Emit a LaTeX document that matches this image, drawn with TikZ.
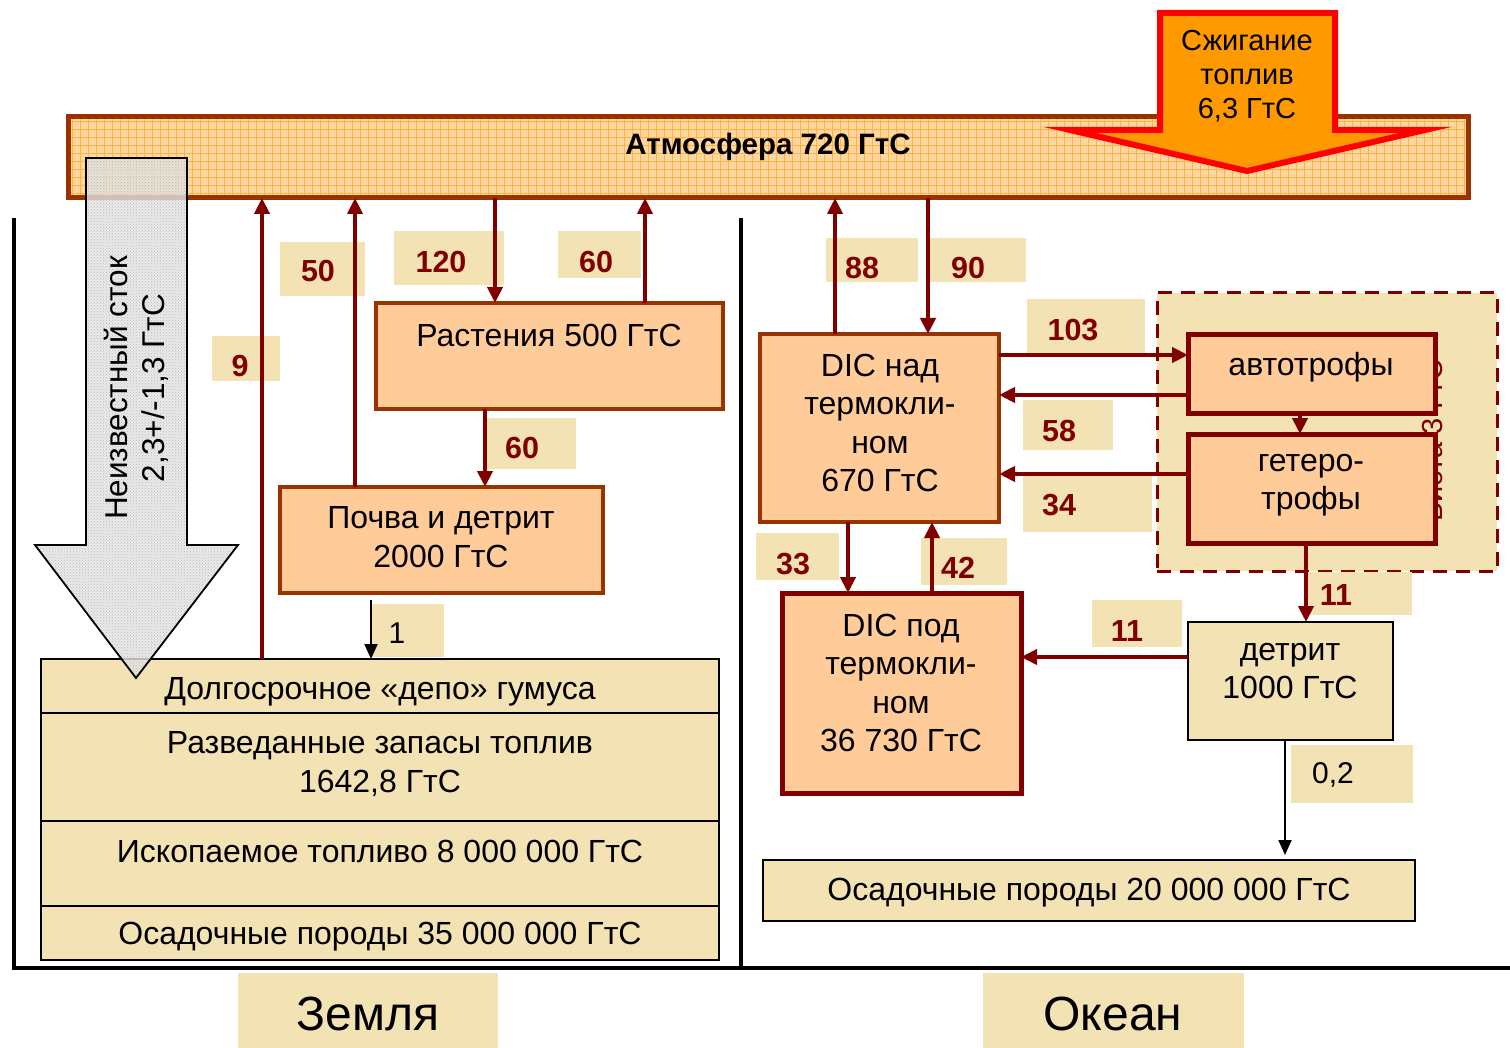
\documentclass[tikz,border=0pt]{standalone}
\usepackage{fontspec}
\setmainfont{Liberation Sans}
\usetikzlibrary{arrows.meta,patterns}
\definecolor{maroonc}{HTML}{800000}
\definecolor{brownc}{HTML}{993300}
\definecolor{peach}{HTML}{FFCC99}
\definecolor{wheatc}{HTML}{F3E2B4}
\definecolor{atmfill}{HTML}{FFD69E}
\definecolor{atmgrid}{HTML}{FFB347}
\definecolor{burnfill}{HTML}{FF9900}
\begin{document}
\begin{tikzpicture}[x=1pt,y=-1pt,
  every node/.style={outer sep=0pt},
  pbox/.style={draw=brownc,line width=4pt,fill=peach,anchor=north west,inner sep=0pt},
  mbox/.style={draw=maroonc,line width=5pt,fill=peach,anchor=north west,inner sep=0pt},
  wbox/.style={draw=black,line width=2pt,fill=wheatc,anchor=north west,inner sep=0pt},
  txt/.style={align=center,font=\fontsize{32}{38.5}\selectfont},
  lbltxt/.style={font=\fontsize{30.5}{34}\selectfont\bfseries,text=maroonc},
  lblplain/.style={font=\fontsize{30}{34}\selectfont,text=black},
  lblrect/.style={fill=wheatc},
  marr/.style={draw=maroonc,line width=4pt,-{Triangle[length=16pt,width=15pt]}},
  barr/.style={draw=black,line width=2pt,-{Triangle[length=15pt,width=13pt]}},
  sepline/.style={draw=black,line width=4pt}
]
\useasboundingbox (0,0) rectangle (1510,1048);
\fill[white] (0,0) rectangle (1510,1048);

% atmosphere
\fill[atmfill] (68,117) rectangle (1468,198);
\begin{scope}
  \clip (68,117) rectangle (1468,198);
  \foreach \gx in {72,80,...,1468} \draw[atmgrid,line width=0.6pt] (\gx,117) -- (\gx,198);
  \foreach \gy in {121,129,...,198} \draw[atmgrid,line width=0.6pt] (68,\gy) -- (1468,\gy);
\end{scope}
\node[draw=brownc,line width=5pt,minimum width=1400pt,minimum height=81pt,anchor=north west,inner sep=0pt] (atm) at (68,117) {};
\node[font=\fontsize{29.5}{34}\selectfont\bfseries] (atmT) at (768,147) {Атмосфера 720 ГтС};

% combustion arrow
\draw[draw=red,line width=6pt,fill=burnfill,line join=miter]
  (1160,13) -- (1335,13) -- (1335,130) -- (1425,130) -- (1247,171) -- (1070,130) -- (1160,130) -- cycle;
\node[align=center,font=\fontsize{29}{34}\selectfont] (burnT) at (1247,76) {Сжигание\\топлив\\6,3 ГтС};

% separators
\draw[sepline] (14,218) -- (14,968);
\draw[sepline] (741,218) -- (741,968);
\draw[sepline] (12,968) -- (1510,968);

% biota dashed box
\node[draw=maroonc,line width=3pt,dash pattern=on 14pt off 9pt,fill=wheatc,minimum width=340pt,minimum height=278pt,anchor=north west,inner sep=0pt] (biota) at (1157,293) {};
\node[rotate=90,font=\fontsize{29}{34}\selectfont,text=maroonc] (biotaT) at (1433,441) {Биота 3 ГтС};

% label rectangles
\fill[lblrect] (280,242) rectangle (365,296);
\fill[lblrect] (212,336) rectangle (280,381);
\fill[lblrect] (394,231) rectangle (504,285);
\fill[lblrect] (558,231) rectangle (641,278);
\fill[lblrect] (484,418) rectangle (576,469);
\fill[lblrect] (372,604) rectangle (444,657);
\fill[lblrect] (826,238) rectangle (918,282);
\fill[lblrect] (930,238) rectangle (1026,282);
\fill[lblrect] (1027,299) rectangle (1145,355);
\fill[lblrect] (1023,400) rectangle (1113,450);
\fill[lblrect] (1023,473) rectangle (1152,532);
\fill[lblrect] (756,533) rectangle (839,580);
\fill[lblrect] (921,538) rectangle (1007,585);
\fill[lblrect] (1305,572) rectangle (1412,615);
\fill[lblrect] (1092,600) rectangle (1182,647);
\fill[lblrect] (1291,745) rectangle (1413,803);
\fill[lblrect] (238,973) rectangle (498,1048);
\fill[lblrect] (983,973) rectangle (1244,1048);

\node[lbltxt] (l50) at (318,271) {50};
\node[lbltxt] (l9) at (240,366) {9};
\node[lbltxt] (l120) at (441,262) {120};
\node[lbltxt] (l60a) at (596,262) {60};
\node[lbltxt] (l60b) at (522,448) {60};
\node[lblplain] (l1) at (397,633) {1};
\node[lbltxt] (l88) at (862,268) {88};
\node[lbltxt] (l90) at (968,268) {90};
\node[lbltxt] (l103) at (1073,330) {103};
\node[lbltxt] (l58) at (1059,431) {58};
\node[lbltxt] (l34) at (1059,505) {34};
\node[lbltxt] (l33) at (793,564) {33};
\node[lbltxt] (l42) at (958,568) {42};
\node[lbltxt] (l11a) at (1336,595) {11};
\node[lbltxt] (l11b) at (1127,631) {11};
\node[lblplain] (l02) at (1333,775) {0,2};
\node[font=\fontsize{48}{56}\selectfont] (zemT) at (368,1014) {Земля};
\node[font=\fontsize{48}{56}\selectfont] (okeT) at (1113,1014) {Океан};

% boxes
\node[pbox,minimum width=347pt,minimum height=106pt] (plants) at (376,303) {};
\node[pbox,minimum width=323pt,minimum height=106pt] (soil) at (280,487) {};
\node[pbox,minimum width=239pt,minimum height=188pt] (dicA) at (760,334) {};
\node[mbox,minimum width=239pt,minimum height=200pt] (dicB) at (782,593) {};
\node[mbox,minimum width=247pt,minimum height=79pt] (auto) at (1188,335) {};
\node[mbox,minimum width=247pt,minimum height=109pt] (het) at (1188,434) {};
\node[wbox,minimum width=205pt,minimum height=118pt] (det) at (1188,622) {};
\node[wbox,minimum width=678pt,minimum height=54pt] (depo) at (41,659) {};
\node[wbox,minimum width=678pt,minimum height=108pt] (resv) at (41,713) {};
\node[wbox,minimum width=678pt,minimum height=85pt] (fossil) at (41,821) {};
\node[wbox,minimum width=678pt,minimum height=54pt] (sedL) at (41,906) {};
\node[wbox,minimum width=652pt,minimum height=61pt] (sedR) at (763,860) {};

\node[txt] (plantsT) at (549,335) {Растения 500 ГтС};
\node[txt] (soilT) at (441,537) {Почва и детрит\\2000 ГтС};
\node[txt] (dicAT) at (880,423) {DIC над\\термокли-\\ном\\670 ГтС};
\node[txt] (dicBT) at (901,683) {DIC под\\термокли-\\ном\\36 730 ГтС};
\node[txt] (autoT) at (1311,367) {автотрофы};
\node[txt] (hetT) at (1311,485) {гетеро-\\трофы};
\node[txt] (detT) at (1290,671) {детрит\\1000 ГтС};
\node[txt] (depoT) at (380,692) {Долгосрочное «депо» гумуса};
\node[txt] (resvT) at (380,764) {Разведанные запасы топлив\\1642,8 ГтС};
\node[txt] (fossilT) at (380,851) {Ископаемое топливо 8 000 000 ГтС};
\node[txt] (sedLT) at (380,937) {Осадочные породы 35 000 000 ГтС};
\node[txt] (sedRT) at (1089,893) {Осадочные породы 20 000 000 ГтС};

% helper coordinates
\coordinate (c9) at (262,0);
\coordinate (c50) at (355,0);
\coordinate (c120) at (495,0);
\coordinate (c60a) at (645,0);
\coordinate (c60b) at (485,0);
\coordinate (s1) at (371,600);
\coordinate (c88) at (835,0);
\coordinate (c90) at (928,0);
\coordinate (r103) at (0,355);
\coordinate (r58) at (0,395);
\coordinate (r34) at (0,474);
\coordinate (cah) at (1300,0);
\coordinate (c33) at (848,0);
\coordinate (c42) at (932,0);
\coordinate (c11a) at (1306,0);
\coordinate (r11b) at (0,657);
\coordinate (c02) at (1285,0);

% arrows
\draw[marr] (c9 |- depo.north) -- (c9 |- atm.south);
\draw[marr] (c50 |- soil.north) -- (c50 |- atm.south);
\draw[marr] (c120 |- atm.south) -- (c120 |- plants.north);
\draw[marr] (c60a |- plants.north) -- (c60a |- atm.south);
\draw[marr] (c60b |- plants.south) -- (c60b |- soil.north);
\draw[barr] (s1) -- (s1 |- depo.north);
\draw[marr] (c88 |- dicA.north) -- (c88 |- atm.south);
\draw[marr] (c90 |- atm.south) -- (c90 |- dicA.north);
\draw[marr] (r103 -| dicA.east) -- (r103 -| auto.west);
\draw[marr] (r58 -| auto.west) -- (r58 -| dicA.east);
\draw[marr] (r34 -| het.west) -- (r34 -| dicA.east);
\draw[marr] (cah |- auto.south) -- (cah |- het.north);
\draw[marr] (c33 |- dicA.south) -- (c33 |- dicB.north);
\draw[marr] (c42 |- dicB.north) -- (c42 |- dicA.south);
\draw[marr] (c11a |- het.south) -- (c11a |- det.north);
\draw[marr] (r11b -| det.west) -- (r11b -| dicB.east);
\draw[barr,shorten >=5pt] (c02 |- det.south) -- (c02 |- sedR.north);

% unknown sink arrow
\fill[gray!20,fill opacity=0.8] (86,158) -- (187,158) -- (187,545) -- (238,545) -- (136,678) -- (35,545) -- (86,545) -- cycle;
\fill[pattern=crosshatch dots,pattern color=gray!55] (86,158) -- (187,158) -- (187,545) -- (238,545) -- (136,678) -- (35,545) -- (86,545) -- cycle;
\draw[black,line width=1.8pt,line join=miter] (86,158) -- (187,158) -- (187,545) -- (238,545) -- (136,678) -- (35,545) -- (86,545) -- cycle;
\node[rotate=90,align=center,font=\fontsize{31.5}{37}\selectfont] (sinkT) at (136,388) {Неизвестный сток\\2,3+/-1,3 ГтС};
\end{tikzpicture}
\end{document}
